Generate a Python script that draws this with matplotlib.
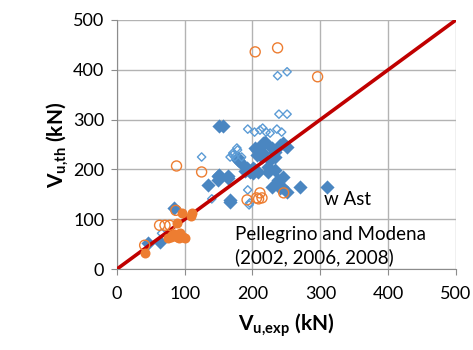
import numpy as np
import matplotlib.pyplot as plt

plt.rcParams['font.family'] = ['Lato', 'DejaVu Sans']
plt.rcParams['mathtext.fontset'] = 'custom'
plt.rcParams['mathtext.rm'] = 'Lato'
plt.rcParams['mathtext.bf'] = 'Lato:bold'

# filled blue diamonds
blue_fill_x = [46, 63, 84, 134, 149, 164, 150, 149, 164, 151, 156, 167, 167, 178, 178, 181,
               189, 196, 204, 208, 201, 192, 201, 206, 206, 214, 204, 215, 218, 215, 223, 223,
               233, 226, 233, 233, 229, 240, 245, 251, 237, 240, 229, 243, 245, 251, 270, 310]
blue_fill_y = [52, 54, 122, 168, 187, 187, 189, 179, 183, 287, 287, 139, 135, 219, 223, 215,
               197, 195, 199, 195, 193, 203, 203, 239, 229, 225, 243, 253, 255, 233, 205, 195,
               199, 219, 225, 235, 243, 249, 253, 245, 179, 163, 165, 165, 185, 155, 165, 165]

# open blue diamonds
blue_open_x = [66, 125, 140, 167, 171, 178, 177, 174, 171, 184, 193, 196, 195,
               193, 203, 211, 215, 220, 226, 236, 243, 239, 251, 237, 251]
blue_open_y = [72, 225, 141, 225, 229, 239, 243, 225, 233, 225, 159, 133, 129,
               281, 275, 279, 283, 275, 273, 281, 275, 311, 311, 388, 396]

# open orange circles
orange_open_x = [41, 63, 71, 78, 87, 88, 125, 192, 206, 209, 211, 214, 246, 204, 237, 296]
orange_open_y = [48, 88, 88, 88, 118, 207, 195, 139, 143, 141, 153, 143, 153, 436, 444, 386]

# filled orange circles
orange_fill_x = [41, 75, 81, 88, 93, 85, 98, 100, 80, 92, 88, 96, 111, 110]
orange_fill_y = [32, 62, 68, 64, 72, 70, 65, 63, 64, 62, 92, 112, 112, 106]

fig = plt.figure(figsize=(4.73, 3.5), dpi=100)
ax = fig.add_axes([0.247, 0.231, 0.717, 0.712])

ax.scatter(blue_fill_x, blue_fill_y, marker='D', s=52, color='#4a86c1', linewidths=0, zorder=3)
ax.scatter(blue_open_x, blue_open_y, marker='D', s=18, facecolors='none',
           edgecolors='#5b9bd5', linewidths=1.0, zorder=3)
ax.plot([0, 500], [0, 500], color='#c00000', lw=2.6, zorder=4)
ax.scatter(orange_fill_x, orange_fill_y, marker='o', s=52, color='#ed7d31', linewidths=0, zorder=5)
ax.scatter(orange_open_x, orange_open_y, marker='o', s=52, facecolors='none',
           edgecolors='#ed7d31', linewidths=1.0, zorder=5)

ax.set_xlim(0, 500)
ax.set_ylim(0, 500)
ax.set_xticks(np.arange(0, 501, 100))
ax.set_yticks(np.arange(0, 501, 100))
ax.grid(True, color='#b3b3b3', lw=1)
ax.set_axisbelow(True)
for s in ['top', 'right']:
    ax.spines[s].set_visible(False)
for s in ['left', 'bottom']:
    ax.spines[s].set_color('#8c8c8c')
ax.tick_params(labelsize=13, length=4, color='#8c8c8c')
ax.tick_params(axis='x', pad=8)
ax.tick_params(axis='y', pad=5)

ax.set_xlabel(r'$\mathbf{V_{u,\!exp}}$ (kN)', fontsize=15, fontweight='bold', labelpad=7)
ax.set_ylabel(r'$\mathbf{V_{u,\!th}}$ (kN)', fontsize=15, fontweight='bold', labelpad=2)

ax.text(305, 139, 'w Ast', fontsize=13.5, va='center')
ax.text(174, 70, 'Pellegrino and Modena', fontsize=13.5, va='center')
ax.text(174, 24, '(2002, 2006, 2008)', fontsize=13.5, va='center')

fig.savefig('out.png', dpi=100)
